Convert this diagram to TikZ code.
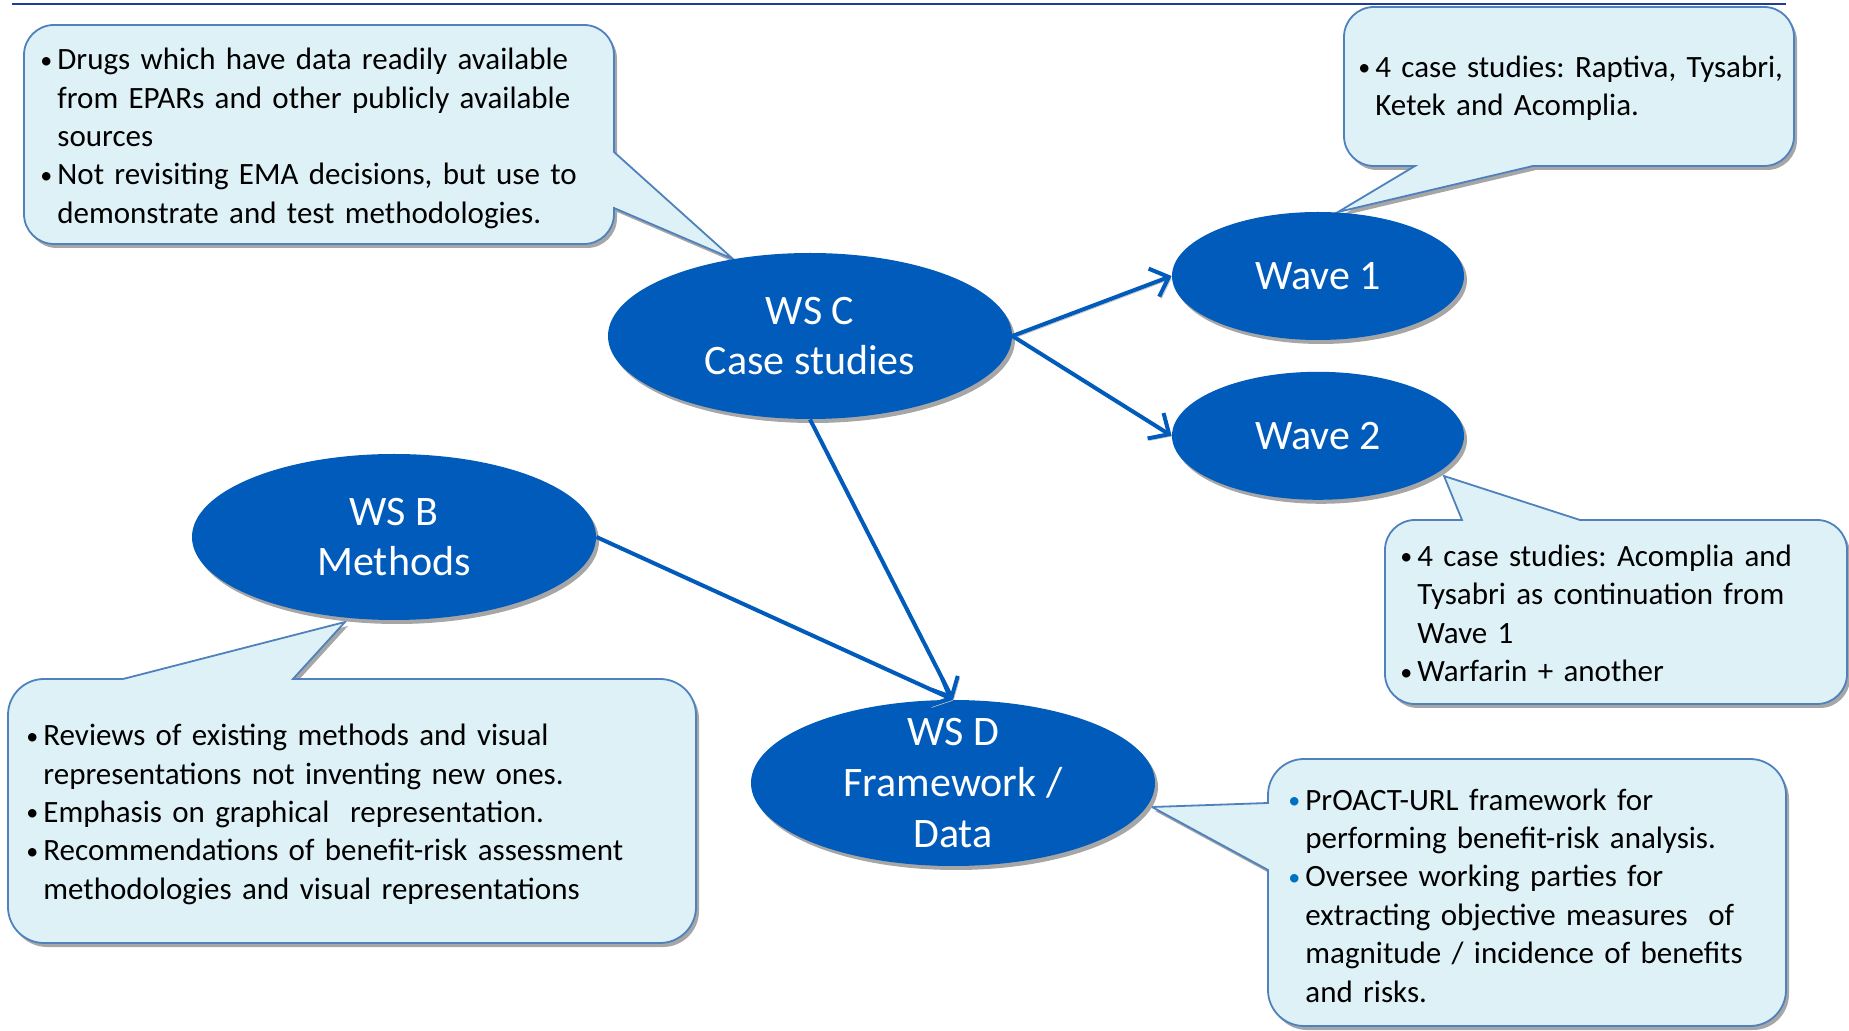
\documentclass[tikz,border=0pt]{standalone}
\usepackage{fontspec}
\setmainfont{Carlito}
\usetikzlibrary{arrows.meta, positioning, shapes.geometric, shadows}

\definecolor{wsblue}{HTML}{005BBB}
\definecolor{dotblue}{HTML}{0070C0}
\definecolor{bubblefill}{HTML}{DDF1F7}
\definecolor{bubbleline}{HTML}{4F81BD}
\definecolor{shadowgray}{HTML}{A6A6A6}
\definecolor{rulenavy}{HTML}{1F3C9C}

% bullet with hanging indent
\newcommand{\bitem}[1][black]{\par\noindent\hangindent=8.5pt\hangafter=1%
  \makebox[8.5pt][l]{\textcolor{#1}{\fontsize{12}{12}\selectfont\raisebox{0.8pt}{\textbullet}}}\ignorespaces}

\begin{document}
\frenchspacing
\begin{tikzpicture}[
  x=0.5pt, y=-0.5pt,
  ws/.style={ellipse, fill=wsblue, text=white, align=center, inner xsep=0pt, inner ysep=-6pt,
    font=\fontsize{21}{25.3}\selectfont,
    drop shadow={shadow xshift=1.5pt, shadow yshift=-2pt, fill=shadowgray, opacity=1}},
  big/.style={ws, minimum width=202pt, minimum height=83pt},
  wave/.style={ws, minimum width=146pt, minimum height=64pt},
  bubble/.style={fill=bubblefill, draw=bubbleline, line width=0.9pt,
    drop shadow={shadow xshift=1.5pt, shadow yshift=-2pt, fill=shadowgray, opacity=1}},
  note/.style={anchor=west, align=left, inner sep=0pt, text width=#1,
    font=\fontsize{15.5}{19.2}\selectfont},
  arrow/.style={draw=wsblue, line width=2pt, -{Straight Barb[length=8pt, width=15pt]},
    preaction={draw=shadowgray!70, transform canvas={xshift=1pt, yshift=-1pt}}}
]
\useasboundingbox (0,0) rectangle (1849,1031);

% Title rule
\draw[rulenavy, line width=1.3pt] (12,4) -- (1786,4);

% Callouts
\path[bubble] (54,25) -- (584,25) arc[start angle=90, end angle=0, radius=15pt]
  -- (614,152) -- (733,259) -- (614,208) -- (614,214)
  arc[start angle=0, end angle=-90, radius=15pt] -- (54,244)
  arc[start angle=270, end angle=180, radius=15pt] -- (24,55)
  arc[start angle=180, end angle=90, radius=15pt] -- cycle;
\path[bubble] (1374,7) -- (1764,7) arc[start angle=90, end angle=0, radius=15pt]
  -- (1794,136) arc[start angle=0, end angle=-90, radius=15pt]
  -- (1533,166) -- (1338,212) -- (1415,166) -- (1374,166)
  arc[start angle=270, end angle=180, radius=15pt] -- (1344,37)
  arc[start angle=180, end angle=90, radius=15pt] -- cycle;
\path[bubble] (1415,520) -- (1462,520) -- (1444,476) -- (1580,520) -- (1817,520)
  arc[start angle=90, end angle=0, radius=15pt] -- (1847,674)
  arc[start angle=0, end angle=-90, radius=15pt] -- (1415,704)
  arc[start angle=270, end angle=180, radius=15pt] -- (1385,550)
  arc[start angle=180, end angle=90, radius=15pt] -- cycle;
\path[bubble] (44,679) -- (123,679) -- (345,622) -- (293,679) -- (660,679)
  arc[start angle=90, end angle=0, radius=18pt] -- (696,907)
  arc[start angle=0, end angle=-90, radius=18pt] -- (44,943)
  arc[start angle=270, end angle=180, radius=18pt] -- (8,715)
  arc[start angle=180, end angle=90, radius=18pt] -- cycle;
\path[bubble] (1304,759) -- (1750,759) arc[start angle=90, end angle=0, radius=18pt]
  -- (1786,990) arc[start angle=0, end angle=-90, radius=18pt] -- (1304,1026)
  arc[start angle=270, end angle=180, radius=18pt] -- (1268,870) -- (1152,807)
  -- (1268,803) -- (1268,795) arc[start angle=180, end angle=90, radius=18pt] -- cycle;

% Callout texts
\node[note=285pt] (note_c) at (40,130) {
\bitem Drugs which have data readily available\newline from EPARs and other publicly available\newline sources
\bitem Not revisiting EMA decisions, but use to\newline demonstrate and test methodologies.\par
};
\node[note=225pt] (note_w1) at (1358,80) {
\bitem 4 case studies: Raptiva, Tysabri,\newline Ketek and Acomplia.\par
};
\node[note=215pt] (note_w2) at (1400,605) {
\bitem 4 case studies: Acomplia and\newline Tysabri as continuation from\newline Wave 1
\bitem Warfarin + another\par
};
\node[note=325pt] (note_b) at (26,806) {
\bitem Reviews of existing methods and visual\newline representations not inventing new ones.
\bitem Emphasis on graphical\ \ representation.
\bitem Recommendations of benefit-risk assessment\newline methodologies and visual representations\par
};
\node[note=245pt] (note_d) at (1288,887) {
\bitem[dotblue] PrOACT-URL framework for\newline performing benefit-risk analysis.
\bitem[dotblue] Oversee working parties for\newline extracting objective measures\ \ of\newline magnitude / incidence of benefits\newline and risks.\par
};

% Work streams
\node[big] (ws_c) at (810,336) {WS C\\Case studies};
\node[wave] (wave1) at (1318,276) {Wave 1};
\node[wave, below=15.5pt of wave1] (wave2) {Wave 2};
\node[big] (ws_b) at (394,537) {WS B\\Methods};
\node[big] (ws_d) at (953,783) {WS D\\Framework /\\Data};

% Arrows
\draw[arrow] (ws_c.east) -- (wave1.west);
\draw[arrow] (ws_c.east) -- (wave2.west);
\draw[arrow] (ws_c.south) -- (ws_d.north);
\draw[arrow] (ws_b.east) -- (ws_d.north);

\end{tikzpicture}
\end{document}
